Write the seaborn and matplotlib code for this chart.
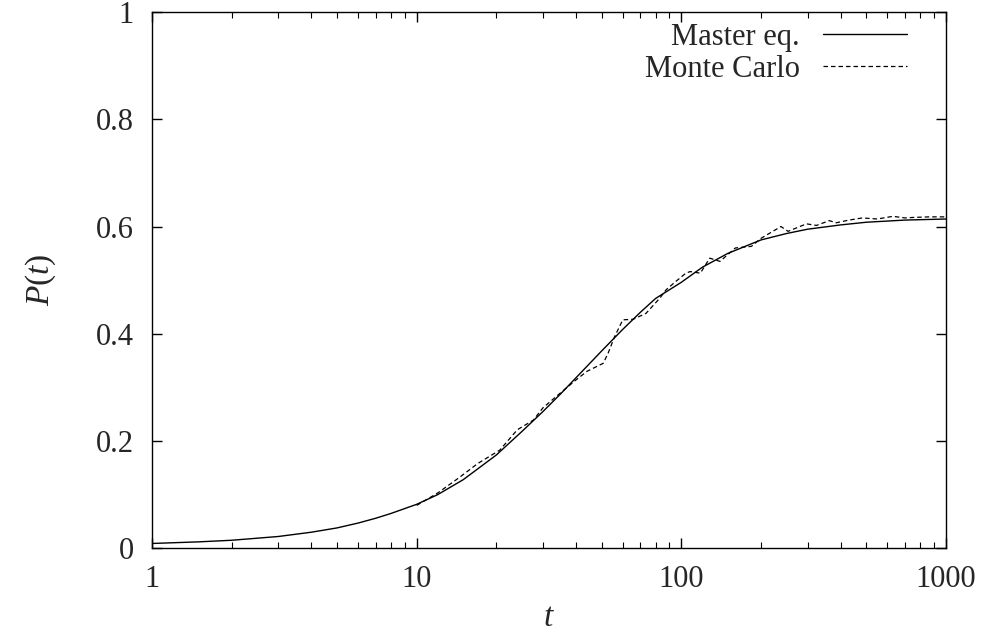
import matplotlib
matplotlib.use("Agg")
import matplotlib.pyplot as plt
import matplotlib.ticker as mticker
import numpy as np
import pandas as pd
import seaborn as sns

# Master equation curve
t_master = [1, 1.5, 2, 3, 4, 5, 6, 7, 8, 10, 12, 15, 20, 25, 30, 35, 40, 50, 60,
            70, 80, 100, 120, 150, 200, 250, 300, 400, 500, 700, 1000]
p_master = [0.009, 0.012, 0.015, 0.022, 0.030, 0.038, 0.047, 0.056, 0.065, 0.082,
            0.100, 0.128, 0.174, 0.218, 0.255, 0.288, 0.318, 0.368, 0.408, 0.440,
            0.466, 0.496, 0.524, 0.550, 0.575, 0.587, 0.595, 0.603, 0.608, 0.612, 0.614]

# Monte Carlo curve
t_mc = [10, 11, 12, 14.4, 17, 20.6, 24, 27.6, 30, 34.8, 40, 44, 50.7, 52.9, 56,
        60.1, 65.7, 73.5, 82.8, 87.6, 95, 104, 108, 118, 128, 140, 160, 184, 200,
        238, 253, 297, 324, 362, 385, 430, 483, 550, 630, 700, 757, 864, 1000]
p_mc = [0.080, 0.092, 0.103, 0.131, 0.158, 0.183, 0.221, 0.239, 0.262, 0.289, 0.314,
        0.330, 0.345, 0.364, 0.395, 0.426, 0.427, 0.438, 0.466, 0.482, 0.497, 0.513,
        0.516, 0.513, 0.541, 0.535, 0.560, 0.563, 0.578, 0.600, 0.591, 0.605, 0.602,
        0.611, 0.607, 0.612, 0.616, 0.614, 0.619, 0.616, 0.617, 0.618, 0.618]

x_ticks = [1, 10, 100, 1000]
y_ticks = [0, 0.2, 0.4, 0.6, 0.8, 1]

sns.set_style("ticks")
plt.rcParams['font.family'] = ['Liberation Serif', 'DejaVu Serif']
plt.rcParams['mathtext.fontset'] = 'custom'
plt.rcParams['mathtext.it'] = 'Liberation Serif:italic'
plt.rcParams['mathtext.rm'] = 'Liberation Serif'

fs = 22
fig = plt.figure(figsize=(9.82, 6.32), dpi=100)
ax = fig.add_axes([152 / 982, 1 - 548.3 / 632, (946 - 152) / 982, (548.3 - 12) / 632])

df_m = pd.DataFrame({"t": t_master, "P": p_master})
df_c = pd.DataFrame({"t": t_mc, "P": p_mc})
sns.lineplot(data=df_m, x="t", y="P", ax=ax, color="black", linewidth=1.0,
             label="Master eq.", sort=False)
sns.lineplot(data=df_c, x="t", y="P", ax=ax, color="black", linewidth=0.9,
             label="Monte Carlo", sort=False, dashes=False)
ax.lines[1].set_dashes((3.6, 2.4))

ax.set_xscale("log")
ax.set_xlim(1, 1000)
ax.set_ylim(0, 1)
ax.set_xticks(x_ticks)
ax.xaxis.set_major_formatter(mticker.FuncFormatter(lambda v, p: f"{v:g}"))
ax.xaxis.set_minor_locator(mticker.LogLocator(base=10, subs=np.arange(2, 10)))
ax.xaxis.set_minor_formatter(mticker.NullFormatter())
ax.set_yticks(y_ticks)
ax.yaxis.set_major_formatter(mticker.FuncFormatter(lambda v, p: f"{v:g}"))

ax.tick_params(axis="both", which="major", direction="in", length=7, width=1,
               top=True, right=True, labelsize=fs, color="black")
ax.tick_params(axis="x", which="major", pad=12)
ax.tick_params(axis="y", which="major", pad=13)
ax.tick_params(axis="x", which="minor", direction="in", length=4, width=0.8,
               top=True, bottom=True, color="black")
for s in ax.spines.values():
    s.set_visible(True)
    s.set_linewidth(1.0)
    s.set_color("black")

ax.set_xlabel("$t$", fontsize=fs + 2, labelpad=6)
ax.set_ylabel("$P(t)$", fontsize=fs + 2, labelpad=27)

leg = ax.legend(loc="upper right", frameon=False, markerfirst=False, fontsize=fs,
                handlelength=2.75, handletextpad=0.75, labelspacing=0.1,
                borderaxespad=0.0, borderpad=0.0, bbox_to_anchor=(1 - 39 / 794, 1 - 11 / 536))

fig.savefig("out.png", dpi=100)
